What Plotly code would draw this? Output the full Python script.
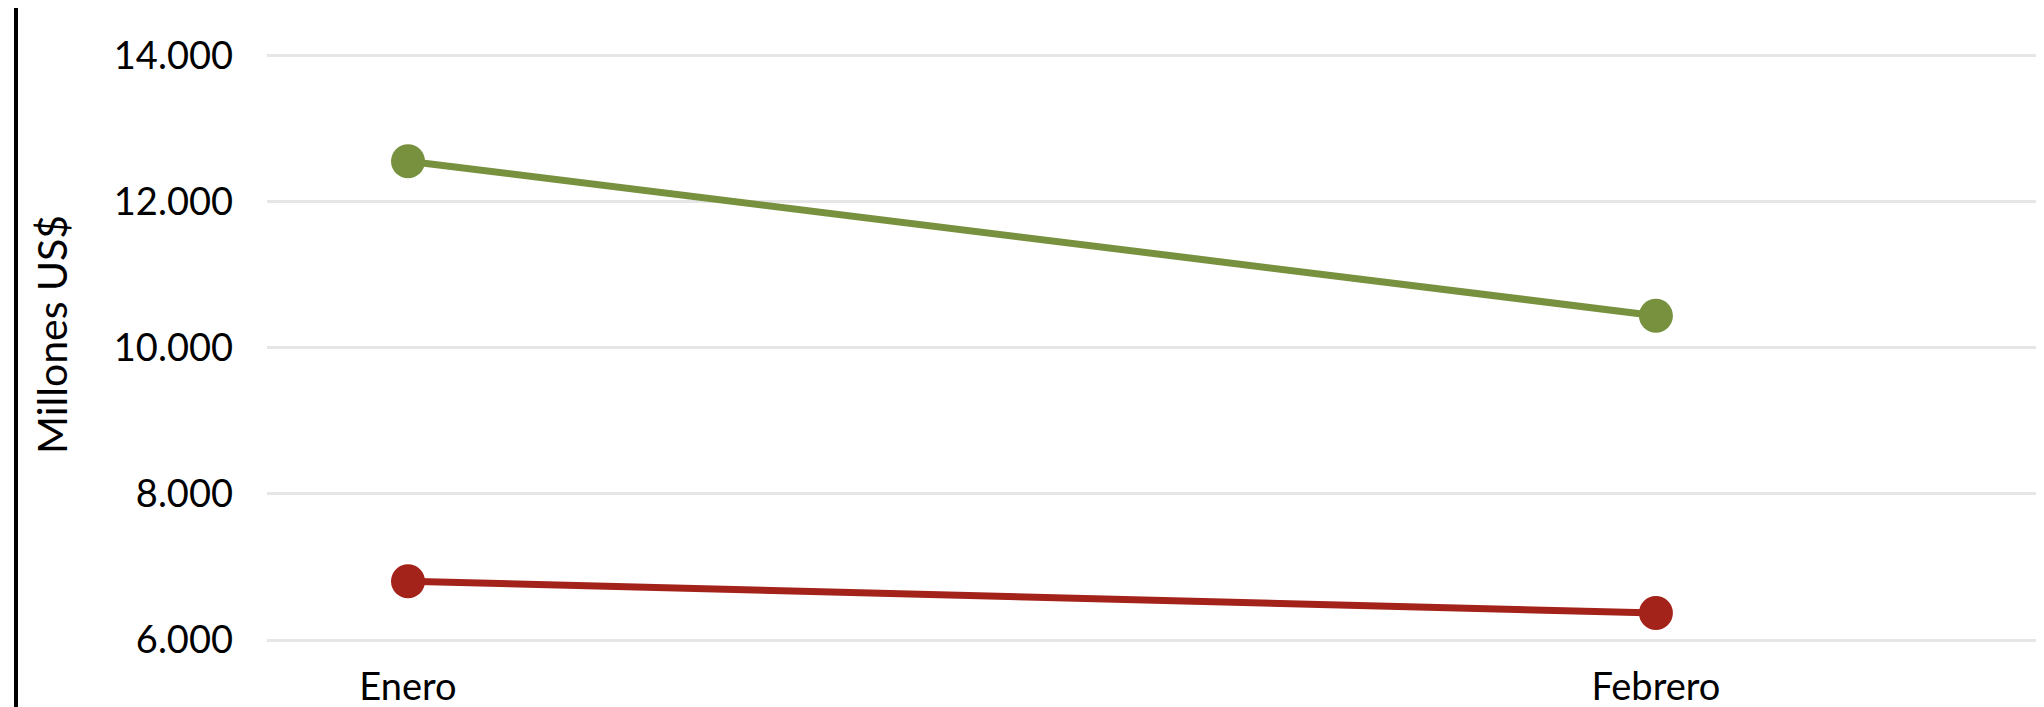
import plotly.graph_objects as go

meses = ["Enero", "Febrero"]
serie_verde = [12555, 10440]
serie_roja = [6805, 6370]
y_ticks = [6000, 8000, 10000, 12000, 14000]

# page has an 8px body margin, so the figure is sized to fit inside it
W, H = 2036, 699
L, R, T, B = 259, 0, 0, 46

fig = go.Figure()
fig.add_trace(go.Scatter(
    x=meses, y=serie_verde, mode="lines+markers", name="Serie verde",
    line=dict(color="#77913F", width=7),
    marker=dict(color="#77913F", size=34, line=dict(width=0)),
))
fig.add_trace(go.Scatter(
    x=meses, y=serie_roja, mode="lines+markers", name="Serie roja",
    line=dict(color="#A3221A", width=7),
    marker=dict(color="#A3221A", size=34, line=dict(width=0)),
))

font_family = "Lato, 'Open Sans', sans-serif"

fig.update_layout(
    width=W, height=H,
    margin=dict(l=L, r=R, t=T, b=B, autoexpand=False),
    paper_bgcolor="white", plot_bgcolor="white",
    showlegend=False,
    separators=",.",
    font=dict(family=font_family, size=38, color="#000000"),
    xaxis=dict(
        type="category", range=[-0.113, 1.311],
        showgrid=False, zeroline=False, showline=False, ticks="",
        tickfont=dict(size=38, family=font_family, color="#000000"),
    ),
    yaxis=dict(
        range=[5713, 14652], tickvals=y_ticks, tickformat=",d",
        showgrid=True, gridcolor="#E6E6E6", gridwidth=3,
        zeroline=False, showline=False, ticks="",
        ticklabelstandoff=33,
        tickfont=dict(size=38, family=font_family, color="#000000"),
        title=dict(text="Millones US$", standoff=33,
                   font=dict(size=41, family=font_family, color="#000000")),
        automargin=False,
    ),
    shapes=[dict(
        type="line", xref="paper", yref="paper",
        x0=(8 - L) / (W - L - R), x1=(8 - L) / (W - L - R),
        y0=-0.2, y1=1.2, line=dict(color="black", width=4),
    )],
)

fig.write_html("out.html")
